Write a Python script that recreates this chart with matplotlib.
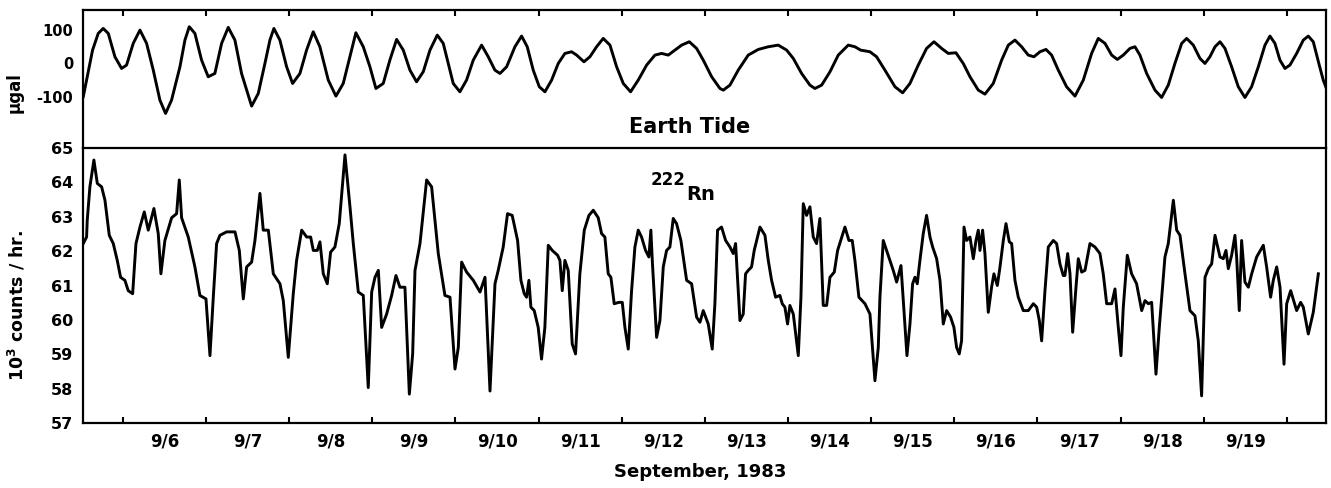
import matplotlib
matplotlib.use("Agg")
import matplotlib.pyplot as plt
import numpy as np

# ---------------- data (day of September 1983, decimal) ----------------
tide_t = [5.523, 5.571, 5.635, 5.703, 5.763, 5.824, 5.904, 5.984, 6.044, 6.124,
          6.205, 6.285, 6.365, 6.445, 6.513, 6.585, 6.686, 6.746, 6.798, 6.866,
          6.946, 7.026, 7.106, 7.187, 7.267, 7.347, 7.427, 7.548, 7.628, 7.708,
          7.768, 7.816, 7.888, 7.969, 8.041, 8.129, 8.209, 8.289, 8.369, 8.470,
          8.562, 8.650, 8.730, 8.802, 8.891, 8.971, 9.043, 9.131, 9.211, 9.292,
          9.372, 9.452, 9.532, 9.612, 9.693, 9.781, 9.853, 9.973, 10.053, 10.133,
          10.214, 10.314, 10.394, 10.474, 10.535, 10.615, 10.715, 10.795, 10.863, 10.935,
          11.008, 11.076, 11.156, 11.236, 11.316, 11.397, 11.457, 11.545, 11.617, 11.697,
          11.777, 11.858, 11.938, 12.018, 12.106, 12.198, 12.299, 12.399, 12.479, 12.559,
          12.639, 12.720, 12.812, 12.900, 12.980, 13.081, 13.181, 13.221, 13.301, 13.401,
          13.521, 13.642, 13.762, 13.882, 13.983, 14.063, 14.163, 14.263, 14.323, 14.404,
          14.504, 14.604, 14.724, 14.804, 14.873, 14.985, 15.065, 15.165, 15.286, 15.378,
          15.466, 15.566, 15.666, 15.755, 15.847, 15.927, 16.019, 16.107, 16.188, 16.288,
          16.368, 16.468, 16.569, 16.649, 16.729, 16.809, 16.889, 16.957, 17.030, 17.102,
          17.170, 17.250, 17.350, 17.451, 17.551, 17.651, 17.731, 17.812, 17.892, 17.960,
          18.032, 18.112, 18.172, 18.232, 18.313, 18.413, 18.493, 18.573, 18.653, 18.734,
          18.794, 18.874, 18.954, 19.014, 19.074, 19.135, 19.195, 19.255, 19.335, 19.415,
          19.495, 19.575, 19.656, 19.736, 19.796, 19.856, 19.916, 19.976, 20.036, 20.117,
          20.197, 20.257, 20.317, 20.389, 20.437, 20.497]
tide_v = [-98.6, -39.4, 39.4, 88.7, 103.5, 88.7, 19.7, -14.8, -4.9, 59.2,
          98.6, 59.2, -19.7, -108.5, -147.9, -108.5, -9.9, 69.0, 108.5, 88.7,
          9.9, -39.4, -29.6, 59.2, 106.5, 69.0, -29.6, -126.2, -88.7, 0.0,
          69.0, 103.5, 69.0, -9.9, -59.2, -29.6, 39.4, 93.7, 49.3, -49.3,
          -96.6, -59.2, 19.7, 90.7, 49.3, -9.9, -74.0, -59.2, 9.9, 71.0,
          39.4, -19.7, -54.2, -24.7, 39.4, 83.8, 59.2, -59.2, -83.8, -49.3,
          9.9, 54.2, 19.7, -19.7, -29.6, -9.9, 49.3, 80.9, 49.3, -19.7,
          -69.0, -83.8, -49.3, 0.0, 29.6, 34.5, 24.7, 4.9, 19.7, 49.3,
          74.0, 54.2, -9.9, -59.2, -83.8, -49.3, -4.9, 24.7, 29.6, 24.7,
          39.4, 54.2, 64.1, 44.4, 9.9, -39.4, -74.0, -78.9, -64.1, -19.7,
          24.7, 41.4, 49.3, 54.2, 39.4, 14.8, -29.6, -64.1, -74.0, -64.1,
          -24.7, 24.7, 54.2, 49.3, 39.4, 34.5, 19.7, -19.7, -69.0, -86.8,
          -59.2, -4.9, 44.4, 64.1, 44.4, 29.6, 31.6, 0.0, -39.4, -78.9,
          -90.7, -59.2, 9.9, 54.2, 69.0, 49.3, 24.7, 19.7, 34.5, 41.4,
          24.7, -19.7, -69.0, -96.6, -49.3, 29.6, 74.0, 59.2, 24.7, 11.8,
          24.7, 44.4, 49.3, 24.7, -29.6, -78.9, -100.6, -64.1, 0.0, 59.2,
          74.0, 54.2, 14.8, 0.0, 19.7, 49.3, 64.1, 44.4, -9.9, -69.0,
          -100.6, -69.0, -9.9, 54.2, 80.9, 59.2, 9.9, -14.8, -4.9, 29.6,
          69.0, 80.9, 64.1, -4.9, -49.3, -88.7]

radon_t = [5.523, 5.563, 5.571, 5.603, 5.651, 5.692, 5.744, 5.784, 5.836, 5.884,
           5.932, 5.972, 6.024, 6.064, 6.117, 6.157, 6.205, 6.257, 6.305, 6.373,
           6.425, 6.457, 6.505, 6.586, 6.646, 6.678, 6.706, 6.786, 6.866, 6.926,
           6.999, 7.047, 7.087, 7.127, 7.167, 7.247, 7.348, 7.400, 7.448, 7.488,
           7.548, 7.588, 7.648, 7.688, 7.749, 7.809, 7.889, 7.929, 7.989, 8.049,
           8.089, 8.150, 8.210, 8.258, 8.290, 8.338, 8.370, 8.410, 8.458, 8.498,
           8.550, 8.602, 8.671, 8.731, 8.771, 8.831, 8.891, 8.951, 8.992, 9.032,
           9.072, 9.112, 9.172, 9.232, 9.284, 9.332, 9.392, 9.445, 9.485, 9.513,
           9.573, 9.653, 9.713, 9.793, 9.873, 9.934, 9.994, 10.034, 10.074, 10.134,
           10.214, 10.295, 10.355, 10.415, 10.475, 10.514, 10.574, 10.626, 10.682, 10.747,
           10.787, 10.827, 10.855, 10.883, 10.907, 10.947, 10.995, 11.035, 11.075, 11.116,
           11.164, 11.228, 11.256, 11.284, 11.316, 11.356, 11.404, 11.444, 11.496, 11.549,
           11.605, 11.657, 11.717, 11.757, 11.797, 11.837, 11.869, 11.909, 11.966, 12.006,
           12.038, 12.078, 12.118, 12.158, 12.198, 12.238, 12.286, 12.326, 12.350, 12.367,
           12.399, 12.419, 12.459, 12.499, 12.539, 12.579, 12.619, 12.659, 12.711, 12.751,
           12.780, 12.840, 12.900, 12.940, 12.980, 13.040, 13.088, 13.120, 13.152, 13.200,
           13.249, 13.301, 13.341, 13.369, 13.421, 13.461, 13.489, 13.521, 13.561, 13.593,
           13.662, 13.722, 13.762, 13.802, 13.850, 13.902, 13.930, 13.962, 13.994, 14.022,
           14.063, 14.123, 14.155, 14.183, 14.223, 14.263, 14.303, 14.343, 14.383, 14.423,
           14.464, 14.504, 14.556, 14.596, 14.684, 14.732, 14.772, 14.804, 14.852, 14.925,
           14.985, 15.045, 15.085, 15.105, 15.145, 15.185, 15.265, 15.306, 15.358, 15.430,
           15.466, 15.498, 15.526, 15.554, 15.586, 15.626, 15.666, 15.707, 15.739, 15.787,
           15.827, 15.867, 15.907, 15.955, 15.995, 16.027, 16.059, 16.087, 16.116, 16.148,
           16.188, 16.228, 16.260, 16.288, 16.308, 16.340, 16.368, 16.408, 16.448, 16.476,
           16.517, 16.549, 16.589, 16.621, 16.661, 16.689, 16.729, 16.769, 16.829, 16.889,
           16.950, 16.990, 17.022, 17.050, 17.090, 17.130, 17.190, 17.230, 17.270, 17.310,
           17.330, 17.363, 17.391, 17.423, 17.463, 17.491, 17.531, 17.571, 17.631, 17.691,
           17.751, 17.791, 17.832, 17.892, 17.932, 17.972, 18.004, 18.032, 18.080, 18.132,
           18.192, 18.253, 18.293, 18.333, 18.373, 18.425, 18.465, 18.533, 18.573, 18.634,
           18.674, 18.714, 18.774, 18.834, 18.894, 18.934, 18.974, 19.015, 19.055, 19.095,
           19.135, 19.195, 19.235, 19.267, 19.295, 19.335, 19.375, 19.395, 19.427, 19.455,
           19.495, 19.536, 19.576, 19.636, 19.716, 19.756, 19.804, 19.836, 19.877, 19.917,
           19.965, 19.997, 20.045, 20.117, 20.165, 20.197, 20.257, 20.317, 20.378]
radon_v = [62.22, 62.41, 62.90, 63.87, 64.65, 63.97, 63.87, 63.48, 62.46, 62.22,
           61.73, 61.24, 61.15, 60.85, 60.76, 62.22, 62.70, 63.14, 62.61, 63.24,
           62.51, 61.34, 62.31, 62.97, 63.09, 64.07, 62.97, 62.41, 61.54, 60.71,
           60.61, 58.96, 60.66, 62.22, 62.46, 62.56, 62.56, 62.02, 60.61, 61.54,
           61.68, 62.31, 63.68, 62.61, 62.61, 61.34, 61.05, 60.56, 58.91, 60.76,
           61.73, 62.61, 62.41, 62.41, 62.02, 62.02, 62.27, 61.34, 61.05, 61.97,
           62.12, 62.80, 64.80, 63.29, 62.22, 60.81, 60.71, 58.03, 60.81, 61.24,
           61.44, 59.78, 60.17, 60.71, 61.29, 60.95, 60.95, 57.84, 59.01, 61.44,
           62.22, 64.07, 63.87, 61.93, 60.71, 60.66, 58.57, 59.20, 61.68, 61.39,
           61.15, 60.81, 61.24, 57.93, 61.05, 61.44, 62.12, 63.09, 63.04, 62.31,
           61.15, 60.76, 60.66, 61.15, 60.37, 60.27, 59.78, 58.86, 59.78, 62.17,
           62.02, 61.88, 61.73, 60.85, 61.73, 61.44, 59.30, 59.01, 61.34, 62.61,
           63.04, 63.19, 62.97, 62.51, 62.41, 61.34, 61.24, 60.47, 60.51, 60.51,
           59.78, 59.15, 60.85, 62.12, 62.61, 62.41, 62.02, 61.83, 62.61, 61.73,
           60.37, 59.49, 59.98, 61.54, 62.02, 62.12, 62.95, 62.80, 62.31, 61.63,
           61.15, 61.05, 60.08, 59.93, 60.27, 59.88, 59.15, 60.47, 62.61, 62.70,
           62.31, 62.12, 61.93, 62.22, 59.98, 60.17, 61.34, 61.44, 61.54, 62.02,
           62.70, 62.46, 61.73, 61.15, 60.66, 60.71, 60.47, 60.37, 59.88, 60.42,
           60.17, 58.96, 60.66, 63.38, 63.04, 63.29, 62.41, 62.22, 62.95, 60.42,
           60.42, 61.24, 61.39, 62.02, 62.70, 62.31, 62.31, 61.73, 60.66, 60.47,
           60.17, 58.23, 59.20, 60.66, 62.31, 62.02, 61.44, 61.10, 61.58, 58.96,
           59.88, 61.05, 61.24, 61.05, 61.73, 62.51, 63.04, 62.41, 62.12, 61.78,
           61.15, 59.88, 60.27, 60.08, 59.78, 59.20, 59.01, 59.39, 62.70, 62.31,
           62.41, 61.78, 62.31, 62.61, 62.02, 62.61, 61.93, 60.22, 60.95, 61.34,
           61.00, 61.54, 62.31, 62.80, 62.27, 62.22, 61.15, 60.66, 60.27, 60.27,
           60.47, 60.37, 59.98, 59.39, 60.85, 62.12, 62.31, 62.22, 61.63, 61.29,
           61.29, 61.93, 61.34, 59.64, 60.95, 61.78, 61.39, 61.44, 62.22, 62.12,
           61.93, 61.34, 60.47, 60.47, 60.90, 59.78, 58.96, 60.37, 61.88, 61.34,
           61.05, 60.27, 60.56, 60.47, 60.51, 58.42, 59.78, 61.83, 62.22, 63.48,
           62.61, 62.46, 61.34, 60.27, 60.12, 59.39, 57.79, 61.24, 61.49, 61.63,
           62.46, 61.83, 61.78, 62.02, 61.49, 61.88, 62.46, 61.83, 60.27, 62.31,
           61.10, 60.95, 61.34, 61.83, 62.17, 61.54, 60.66, 61.15, 61.54, 60.95,
           58.71, 60.47, 60.85, 60.27, 60.51, 60.37, 59.59, 60.22, 61.34]

day_ticks = list(range(6, 21))
date_labels = ["9/6", "9/7", "9/8", "9/9", "9/10", "9/11", "9/12", "9/13",
               "9/14", "9/15", "9/16", "9/17", "9/18", "9/19"]
tide_ticks = [100, 0, -100]
tide_ticklabels = ["100", "0", "-100"]
radon_ticks = [57, 58, 59, 60, 61, 62, 63, 64, 65]

# ---------------- figure ----------------
plt.rcParams['font.family'] = ['DejaVu Sans']
plt.rcParams['font.weight'] = 'bold'
plt.rcParams['mathtext.default'] = 'bf'

W, H = 1331, 488
fig = plt.figure(figsize=(W / 100, H / 100), dpi=100)
fig.patch.set_facecolor('white')

left = 83 / W
width = (1326 - 83) / W
ax_top = fig.add_axes([left, 1 - 148 / H, width, (148 - 10) / H])
ax_bot = fig.add_axes([left, 1 - 423 / H, width, (423 - 148) / H])

xlim = (5.52, 20.47)
lw = 2.1

# Earth tide panel
ax_top.plot(tide_t, tide_v, color='black', lw=lw, solid_joinstyle='round')
ax_top.set_xlim(*xlim)
ax_top.set_ylim(-250, 158)
ax_top.set_yticks(tide_ticks)
ax_top.set_yticklabels(tide_ticklabels, fontsize=10.5, fontweight='bold')
ax_top.tick_params(axis='y', length=0, pad=7)
ax_top.set_xticks(day_ticks)
ax_top.tick_params(axis='x', direction='in', length=4, width=1.5,
                   top=True, bottom=False, labelbottom=False, labeltop=False)
fig.text(690 / W, 1 - 127 / H, "Earth Tide", ha='center', va='center',
         fontsize=15, fontweight='bold')

# Radon panel
ax_bot.plot(radon_t, radon_v, color='black', lw=lw, solid_joinstyle='round')
ax_bot.set_xlim(*xlim)
ax_bot.set_ylim(57, 65)
ax_bot.set_yticks(radon_ticks)
ax_bot.set_yticklabels([str(v) for v in radon_ticks], fontsize=11.5, fontweight='bold')
ax_bot.tick_params(axis='y', length=0, pad=7)
ax_bot.set_xticks(day_ticks)
ax_bot.set_xticklabels([])
ax_bot.tick_params(axis='x', which='major', direction='in', length=4, width=1.5)
ax_bot.set_xticks([d + 0.5 for d in day_ticks[:-1]], minor=True)
ax_bot.set_xticklabels(date_labels, minor=True, fontsize=12, fontweight='bold')
ax_bot.tick_params(axis='x', which='minor', length=0, pad=7)

fig.text(686 / W, 1 - 180 / H, "222", ha='right', va='center',
         fontsize=12, fontweight='bold')
fig.text(686 / W, 1 - 195 / H, "Rn", ha='left', va='center',
         fontsize=14, fontweight='bold')

for ax in (ax_top, ax_bot):
    for s in ax.spines.values():
        s.set_linewidth(1.6)
        s.set_color('black')
ax_top.spines['bottom'].set_visible(False)

# axis labels
fig.text(15 / W, 1 - 93 / H, "\u03bcgal", rotation=90, ha='center', va='center',
         fontsize=12, fontweight='bold')
fig.text(17 / W, 1 - 305 / H, r"$\mathbf{10^3}$ counts / hr.", rotation=90,
         ha='center', va='center', fontsize=12.5, fontweight='bold')
fig.text(700 / W, 1 - 472 / H, "September, 1983", ha='center', va='center',
         fontsize=13, fontweight='bold')

fig.savefig("out.png", dpi=100, facecolor='white')
